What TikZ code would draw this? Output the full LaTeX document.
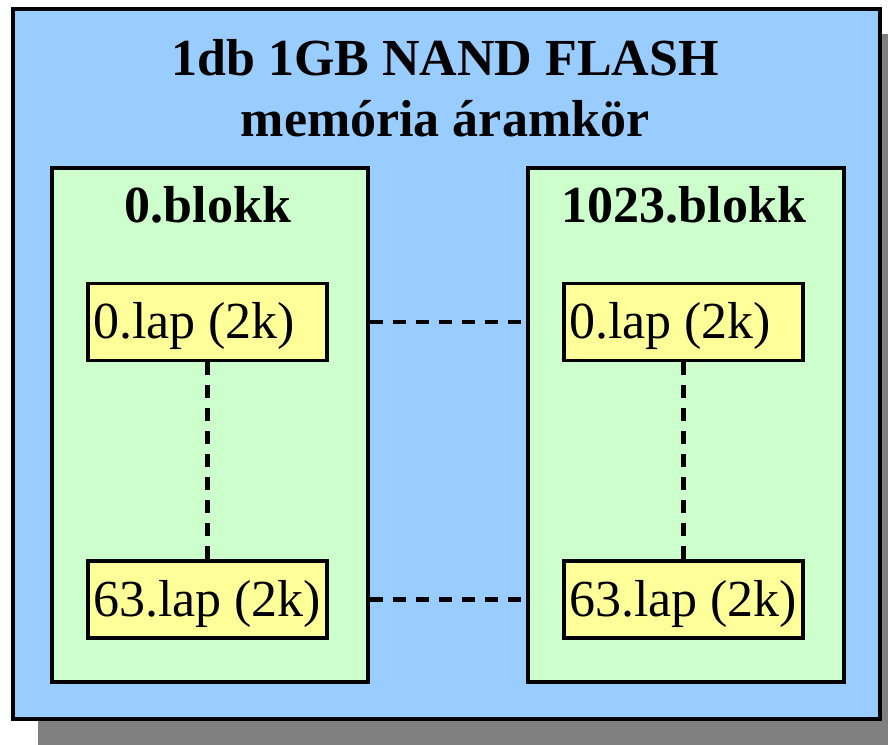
\documentclass[tikz,border=0pt]{standalone}
\usepackage{fontspec}
\setmainfont{Liberation Serif}
\definecolor{chipblue}{HTML}{99CCFF}
\definecolor{blockgreen}{HTML}{CCFFCC}
\definecolor{pageyellow}{HTML}{FFFF99}
\definecolor{shadowgray}{HTML}{808080}
\newcommand{\pagelabel}[1]{\makebox[229pt][l]{#1}}
\tikzset{
  chipbox/.style={draw=black, fill=chipblue, line width=3.5pt, minimum width=867pt, minimum height=710pt, anchor=north west, inner sep=0pt},
  blockbox/.style={draw=black, fill=blockgreen, line width=3.5pt, minimum width=316pt, minimum height=514pt, anchor=north west, inner sep=0pt},
  pagebox/.style={draw=black, fill=pageyellow, line width=3.5pt, minimum width=239pt, minimum height=77pt, inner xsep=5pt, inner ysep=0pt, text height=40pt, text depth=7pt, font=\fontsize{52}{60}\selectfont},
  titletext/.style={anchor=base, inner sep=0pt, font=\bfseries\fontsize{52}{60}\selectfont},
  dashline/.style={line width=4.5pt, dash pattern=on 13pt off 10pt},
}
\begin{document}
\begin{tikzpicture}[x=1pt,y=-1pt]
\useasboundingbox (0,0) rectangle (888,744);
\clip (0,0) rectangle (888,744);
\fill[shadowgray] (38,34) rectangle (910,760);
\node[chipbox] (chip) at (11,7) {};
\node[titletext] (t1) at (445,75) {1db 1GB NAND FLASH};
\node[titletext] (t2) at (445,136) {memória áramkör};
\node[blockbox] (lb) at (50,166) {};
\node[blockbox] (rb) at (526,166) {};
\node[titletext] (lbt) at (208,222) {0.blokk};
\node[titletext] (rbt) at (684,222) {1023.blokk};
\node[pagebox] (lt) at (207.5,322) {\pagelabel{0.lap (2k)}};
\node[pagebox] (lbot) at (207.5,599.5) {\pagelabel{63.lap (2k)}};
\node[pagebox] (rt) at (683.5,322) {\pagelabel{0.lap (2k)}};
\node[pagebox] (rbot) at (683.5,599.5) {\pagelabel{63.lap (2k)}};
\draw[dashline] (lt.south) -- (lbot.north);
\draw[dashline] (rt.south) -- (rbot.north);
\draw[dashline] (lt -| lb.east) -- (rt -| rb.west);
\draw[dashline] (lbot -| lb.east) -- (rbot -| rb.west);
\end{tikzpicture}
\end{document}
